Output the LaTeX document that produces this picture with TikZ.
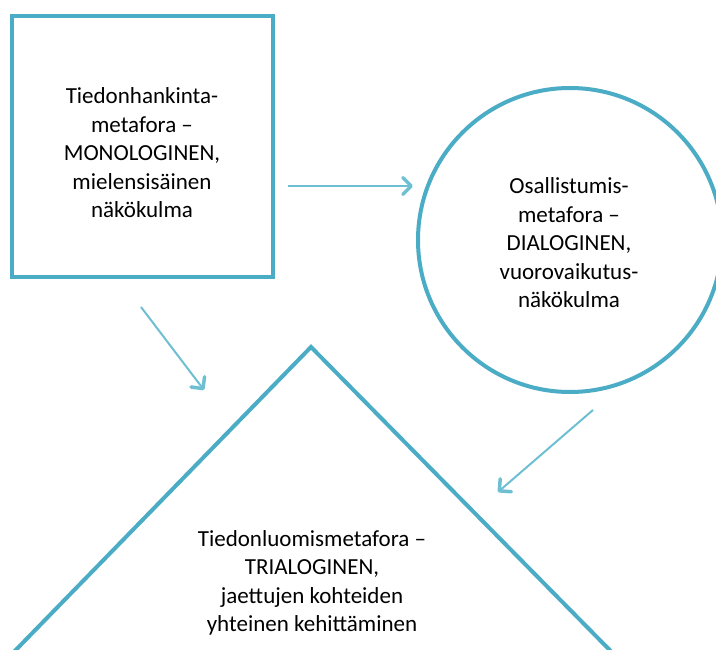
\documentclass[tikz,border=0pt]{standalone}
\usepackage{fontspec}
\setmainfont{Carlito}
\usetikzlibrary{arrows.meta}
\definecolor{aqua}{HTML}{4BACC6}
\definecolor{aqualight}{HTML}{6FBFD3}
\tikzset{
  shapeline/.style={draw=aqua, line width=4pt},
  label text/.style={font=\fontsize{23}{28.5}\selectfont, align=center, text=black, inner sep=0pt},
  flow/.style={draw=aqualight, line width=2pt,
    -{Straight Barb[length=8.5pt, width=17pt, line width=3.5pt, round]}},
}
\begin{document}
\begin{tikzpicture}[x=1pt, y=-1pt]
  \useasboundingbox (0,0) rectangle (716,650);
  \clip (0,0) rectangle (716,650);
  \fill[white] (0,0) rectangle (716,650);

  % monological metaphor: square
  \node[shapeline, minimum width=261pt, minimum height=261pt, inner sep=0pt] (box) at (142.5,147) {};
  \node[label text] (boxtext) at (142,153) {Tiedonhankinta-\\metafora --\\MONOLOGINEN,\\mielensisäinen\\näkökulma};

  % dialogical metaphor: circle
  \node[shapeline, circle, minimum size=304pt, inner sep=0pt] (circ) at (570,240) {};
  \node[label text] (circtext) at (569,243) {Osallistumis-\\metafora --\\DIALOGINEN,\\vuorovaikutus-\\näkökulma};

  % trialogical metaphor: triangle running past the lower edge
  \coordinate (apex) at (311,347);
  \coordinate (tl) at (-30,697);
  \coordinate (tr) at (656,697);
  \draw[shapeline, line join=miter] (tl) -- (apex) -- (tr);
  \node[label text] (tritext) at (312,583) {Tiedonluomismetafora --\\TRIALOGINEN,\\jaettujen kohteiden\\yhteinen kehittäminen};

  % connectors between the three views
  \coordinate (a1s) at (288,186);
  \coordinate (a1e) at (413,186);
  \coordinate (a2s) at (141,307);
  \coordinate (a2e) at (204,390);
  \coordinate (a3s) at (593,410);
  \coordinate (a3e) at (498,492);
  \draw[flow] (a1s) -- (a1e);
  \draw[flow] (a2s) -- (a2e);
  \draw[flow] (a3s) -- (a3e);
\end{tikzpicture}
\end{document}
